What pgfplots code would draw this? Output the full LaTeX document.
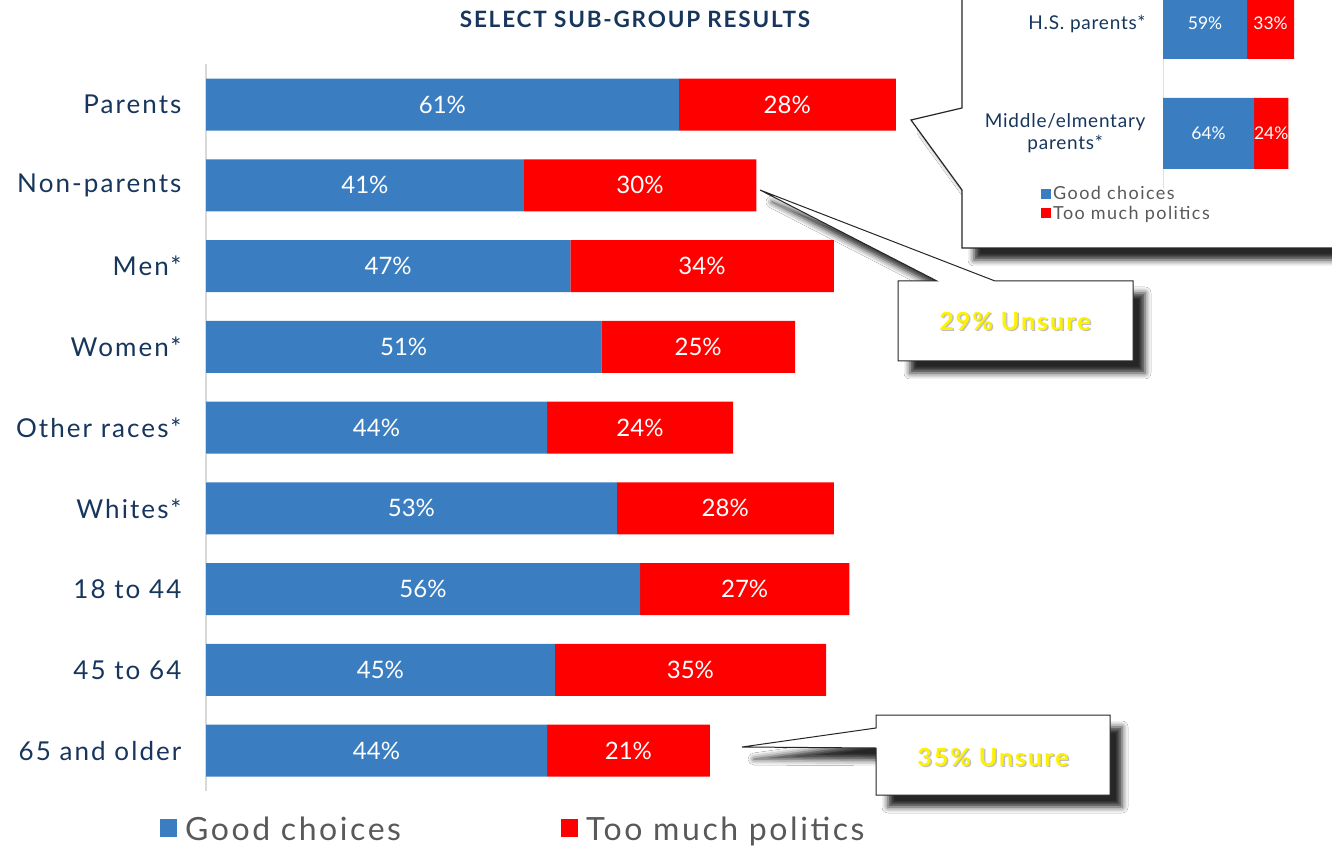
\documentclass[border=0pt]{standalone}
\usepackage{pgfplots}
\pgfplotsset{compat=1.18}
\usepackage{pgfplotstable}
\usepackage{fontspec}
\setmainfont{Lato}[LetterSpace=8]
\newfontfamily\numfont{Lato}
\newfontfamily\insetfont{Lato}[LetterSpace=4]
\usetikzlibrary{shadows.blur}
\definecolor{cblue}{RGB}{58,126,193}
\definecolor{cred}{RGB}{255,0,0}
\definecolor{navy}{RGB}{23,54,93}
\definecolor{lgray}{RGB}{89,89,89}

\pgfplotstableread{
y good bad
0 61 28
1 41 30
2 47 34
3 51 25
4 44 24
5 53 28
6 56 27
7 45 35
8 44 21
}\maindata
\pgfplotstableread{
y good bad
0 59 33
1 64 24
}\insetdata

\begin{document}
\begin{tikzpicture}[x=1pt,y=1pt]
\useasboundingbox (0,0) rectangle (1332,847);
\fill[white] (0,0) rectangle (1332,847);

% inset callout shape
\draw[black!85, line width=1.2pt, fill=white,
  blur shadow={shadow xshift=12pt, shadow yshift=-12pt, shadow opacity=85, shadow blur radius=6pt}]
  (962,880) -- (962,739) -- (911,727) -- (962,657) -- (962,599) -- (1360,599) -- (1360,880) -- cycle;

% title
\node[font=\fontsize{22.5}{26}\selectfont\bfseries, text=navy] at (635,828) {SELECT SUB-GROUP RESULTS};

\begin{axis}[
  at={(206pt,56pt)}, anchor=south west, scale only axis,
  width=775pt, height=726.75pt,
  xbar stacked, bar width=52pt,
  xmin=0, xmax=100, ymin=-0.5, ymax=8.5, y dir=reverse,
  axis lines*=left,
  x axis line style={draw=none},
  y axis line style={draw=black!15, line width=1.5pt},
  xtick=\empty, ytick={0,...,8},
  yticklabels={Parents,Non-parents,Men*,Women*,Other races*,Whites*,18 to 44,45 to 64,65 and older},
  major tick length=0pt,
  yticklabel style={font=\fontsize{26}{30}\selectfont, text=navy, xshift=-21pt},
  /pgf/number format/assume math mode=true,
  point meta=explicit,
  nodes near coords={\pgfmathprintnumber{\pgfplotspointmeta}\%},
  every node near coord/.append style={font=\numfont\fontsize{24}{28}\selectfont, text=white, anchor=center},
  legend cell align=left,
  legend style={at={(rel axis cs:-0.0594,-0.0523)}, anchor=west, draw=none, fill=none,
      legend columns=2, font=\fontsize{32}{36}\selectfont, text=lgray, inner sep=0pt,
      /tikz/every even column/.append style={column sep=158pt}},
  legend image code/.code={\fill[#1] (0pt,-8pt) rectangle (17pt,10pt); \path (23pt,0pt);},
]
\addplot[fill=cblue, draw=none] table[x=good, y=y, meta=good] {\maindata};
\addplot[fill=cred, draw=none] table[x=bad, y=y, meta=bad] {\maindata};
\legend{Good choices, Too much politics}
\end{axis}

\begin{axis}[
  at={(1163pt,658.5pt)}, anchor=south west, scale only axis,
  width=142.4pt, height=220pt,
  xbar stacked, bar width=71pt,
  xmin=0, xmax=100, ymin=-0.5, ymax=1.5, y dir=reverse,
  axis lines*=left,
  x axis line style={draw=none},
  y axis line style={draw=black!12, line width=1pt},
  xtick=\empty, ytick={0,1},
  yticklabels={H.S. parents*, {Middle/elmentary\\parents*}},
  major tick length=0pt,
  yticklabel style={font=\insetfont\fontsize{19}{22}\selectfont, text=navy, align=center, xshift=-14pt},
  /pgf/number format/assume math mode=true,
  point meta=explicit,
  nodes near coords={\pgfmathprintnumber{\pgfplotspointmeta}\%},
  every node near coord/.append style={font=\numfont\fontsize{17.5}{20}\selectfont, text=white, anchor=center},
  legend cell align=left,
  legend style={at={(rel axis cs:-0.857,0.02)}, anchor=north west, draw=none, fill=none,
      font=\fontsize{18}{20}\selectfont, text=lgray, inner sep=0pt, row sep=1pt},
  legend image code/.code={\fill[#1] (0pt,-5pt) rectangle (10pt,5pt);},
]
\addplot[fill=cblue, draw=none] table[x=good, y=y, meta=good] {\insetdata};
\addplot[fill=cred, draw=none] table[x=bad, y=y, meta=bad] {\insetdata};
\legend{Good choices, Too much politics}
\end{axis}

% callout 1
\draw[black!85, line width=1pt, fill=white,
  blur shadow={shadow xshift=12pt, shadow yshift=-12pt, shadow opacity=85, shadow blur radius=6pt}]
  (898,566) -- (937,566) -- (760,657) -- (995,566) -- (1133,566) -- (1133,486) -- (898,486) -- cycle;
\node[font=\fontsize{25}{28}\selectfont\bfseries, text=black!50, opacity=0.5] at (1016.5,524.5) {29\% Unsure};
\node[font=\fontsize{25}{28}\selectfont\bfseries, text=yellow] at (1015,526) {29\% Unsure};

% callout 2
\draw[black!85, line width=1pt, fill=white,
  blur shadow={shadow xshift=12pt, shadow yshift=-12pt, shadow opacity=85, shadow blur radius=6pt}]
  (876,132) -- (1110,132) -- (1110,52) -- (876,52) -- (876,99) -- (742,100) -- (876,119) -- cycle;
\node[font=\fontsize{25}{28}\selectfont\bfseries, text=black!50, opacity=0.5] at (994.5,88.5) {35\% Unsure};
\node[font=\fontsize{25}{28}\selectfont\bfseries, text=yellow] at (993,90) {35\% Unsure};
\end{tikzpicture}
\end{document}
